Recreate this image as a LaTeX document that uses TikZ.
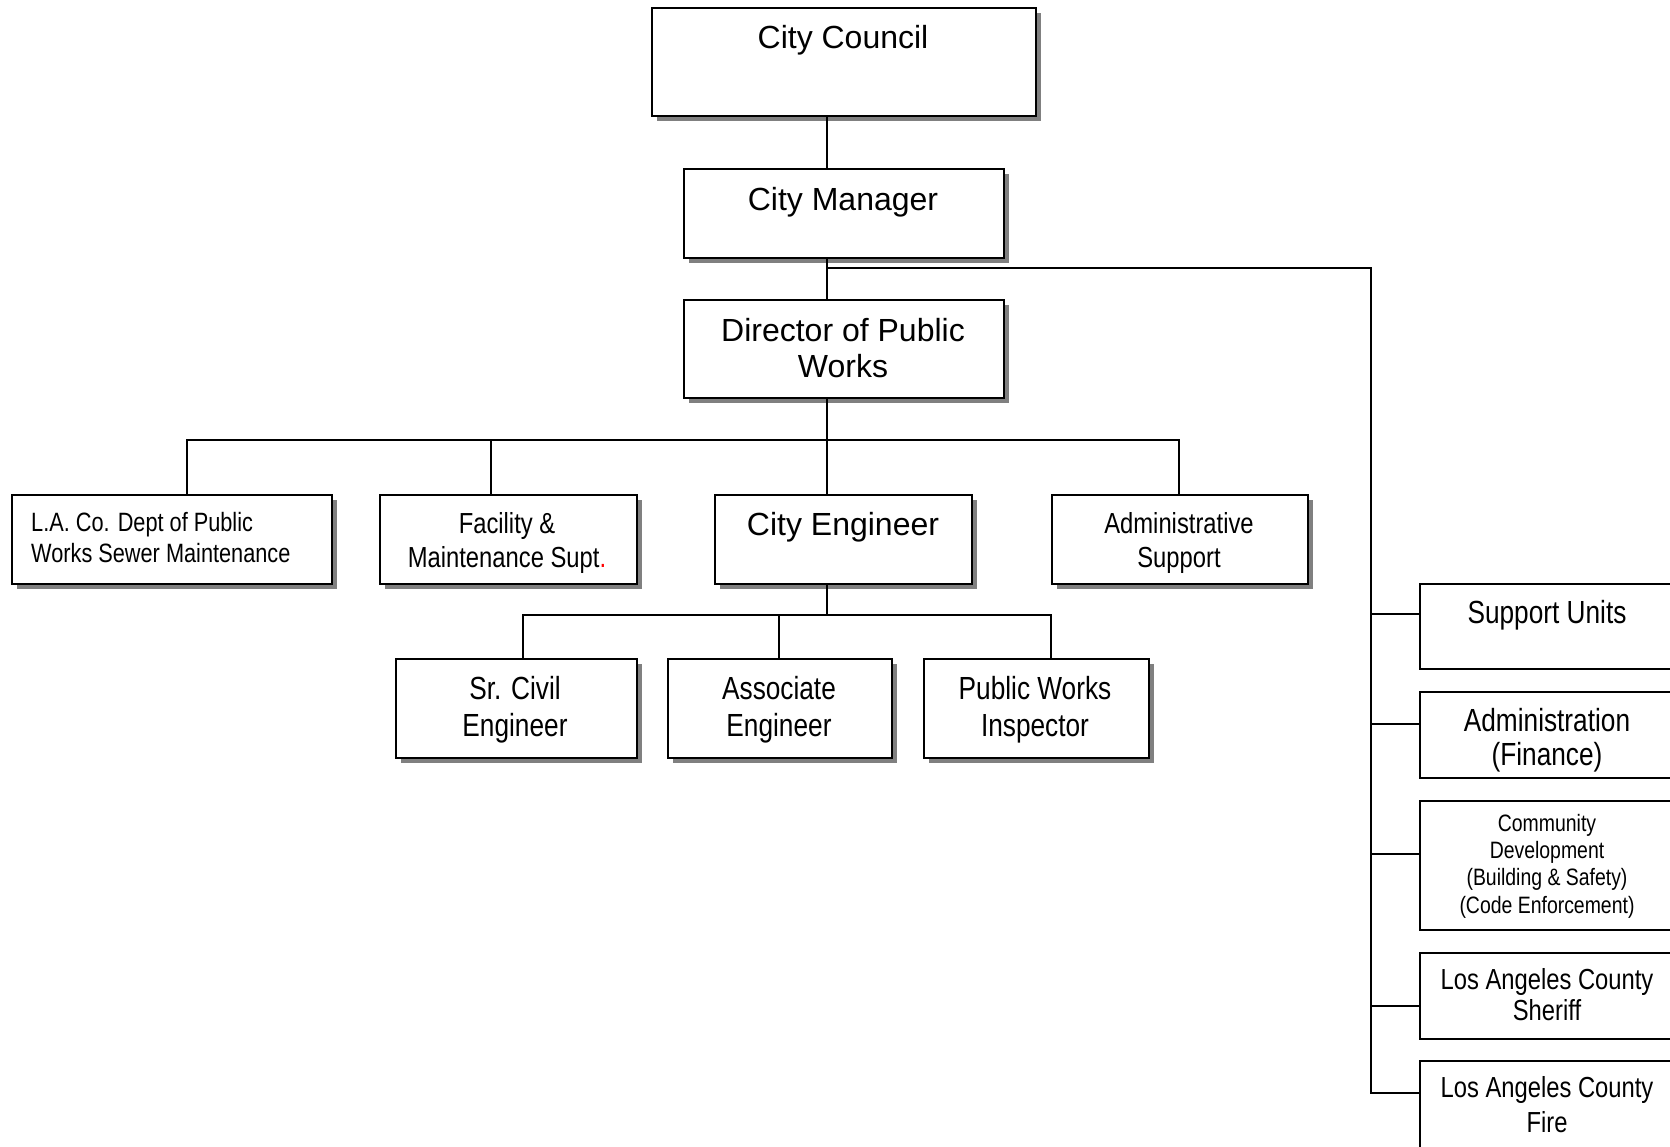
\documentclass[tikz,border=0pt]{standalone}
\usepackage{fontspec}
\setmainfont{Liberation Sans}
\newfontfamily\narrowfont[FakeStretch=0.82]{Liberation Sans}
\usetikzlibrary{shadows,calc}
\tikzset{
  orgbox/.style={draw=black, line width=2.4pt, fill=white, inner sep=0pt, anchor=north west,
    drop shadow={shadow xshift=5pt, shadow yshift=-5pt, fill=black!50, opacity=1}},
  sidebox/.style={draw=black, line width=2pt, fill=white, inner sep=0pt, anchor=north west},
  link/.style={line width=2pt, line cap=rect},
  txt/.style={inner sep=0pt, align=center},
  bigtxt/.style={txt, font=\fontsize{32}{36}\selectfont},
  midtxt/.style={txt, font=\narrowfont\fontsize{29}{34}\selectfont},
  engtxt/.style={txt, font=\narrowfont\fontsize{32}{37}\selectfont},
  latxt/.style={inner sep=0pt, align=left, anchor=west, font=\narrowfont\fontsize{26.5}{31}\selectfont},
  sidetxt/.style={txt, font=\narrowfont\fontsize{32}{34}\selectfont},
  lactxt/.style={txt, font=\narrowfont\fontsize{29}{31}\selectfont},
  firetxt/.style={txt, font=\narrowfont\fontsize{29}{35}\selectfont},
  cdtxt/.style={txt, font=\narrowfont\fontsize{23.7}{27.3}\selectfont},
}
\begin{document}
\begin{tikzpicture}[x=1pt, y=-1pt]
\useasboundingbox (0,0) rectangle (1670,1146);
\fill[white] (0,0) rectangle (1670,1146);
\clip (0,0) rectangle (1670,1146);

% spine and rails
\coordinate (spine) at (827,0);
\coordinate (rail) at (1371,0);

% main boxes
\node[orgbox, minimum width=384pt, minimum height=108pt] (cc) at (651,7) {};
\node[orgbox, minimum width=320pt, minimum height=89pt] (cm) at (683,168) {};
\node[orgbox, minimum width=320pt, minimum height=98pt] (dpw) at (683,299) {};
\node[orgbox, minimum width=320pt, minimum height=89pt] (la) at (11,494) {};
\node[orgbox, minimum width=257pt, minimum height=89pt] (fac) at (379,494) {};
\node[orgbox, minimum width=257pt, minimum height=89pt] (ce) at (714,494) {};
\node[orgbox, minimum width=256pt, minimum height=89pt] (as) at (1051,494) {};
\node[orgbox, minimum width=241pt, minimum height=99pt] (sr) at (395,658) {};
\node[orgbox, minimum width=224pt, minimum height=99pt] (ae) at (667,658) {};
\node[orgbox, minimum width=225pt, minimum height=99pt] (pwi) at (923,658) {};

% side boxes (run past the right edge)
\node[sidebox, minimum width=300pt, minimum height=85pt] (su) at (1419,583) {};
\node[sidebox, minimum width=300pt, minimum height=86pt] (adm) at (1419,691) {};
\node[sidebox, minimum width=300pt, minimum height=129pt] (cd) at (1419,800) {};
\node[sidebox, minimum width=300pt, minimum height=86pt] (sh) at (1419,952) {};
\node[sidebox, minimum width=300pt, minimum height=120pt] (fire) at (1419,1060) {};

% texts
\node[bigtxt] (ccT) at (843,40) {City Council};
\node[bigtxt] (cmT) at (843,202) {City Manager};
\node[bigtxt] (dpwT) at (843,348) {Director of Public\\Works};
\node[latxt] (laT) at (31,538) {L.A. Co. Dept of Public\\Works Sewer Maintenance};
\node[midtxt] (facT) at (507,543) {Facility \&\\Maintenance Supt\textcolor{red}{.}};
\node[bigtxt] (ceT) at (843,527) {City Engineer};
\node[midtxt] (asT) at (1179,543) {Administrative\\Support};
\node[engtxt] (srT) at (515,710) {Sr. Civil\\Engineer};
\node[engtxt] (aeT) at (779,710) {Associate\\Engineer};
\node[engtxt] (pwiT) at (1035,710) {Public Works\\Inspector};
\node[sidetxt] (suT) at (1547,615) {Support Units};
\node[sidetxt] (admT) at (1547,740) {Administration\\(Finance)};
\node[cdtxt] (cdT) at (1547,866) {Community\\Development\\(Building \& Safety)\\(Code Enforcement)};
\node[lactxt] (shT) at (1547,995) {Los Angeles County\\Sheriff};
\node[firetxt] (fireT) at (1547,1105) {Los Angeles County\\Fire};

% connectors: top spine
\draw[link] (cc.south -| spine) -- (cm.north -| spine);
\draw[link] (cm.south -| spine) -- (dpw.north -| spine);
\coordinate (cmbus) at (827,268);
\coordinate (bsu) at (1371,614);
\coordinate (badm) at (1371,724);
\coordinate (bcd) at (1371,854);
\coordinate (bsh) at (1371,1006);
\coordinate (bfire) at (1371,1093);
\draw[link] (cmbus) -| (bfire) -- (fire.west |- bfire);
\draw[link] (bsu) -- (su.west |- bsu);
\draw[link] (badm) -- (adm.west |- badm);
\draw[link] (bcd) -- (cd.west |- bcd);
\draw[link] (bsh) -- (sh.west |- bsh);

% director bus
\coordinate (dbus) at (827,440);
\coordinate (dlaX) at (187,0);
\coordinate (dfacX) at (491,0);
\coordinate (dasX) at (1179,0);
\draw[link] (dpw.south -| spine) -- (ce.north -| spine);
\draw[link] (la.north -| dlaX) |- (dbus -| dasX) -- (as.north -| dasX);
\draw[link] (fac.north -| dfacX) -- (dbus -| dfacX);

% city engineer bus
\coordinate (ebus) at (827,615);
\coordinate (esrX) at (523,0);
\coordinate (eaeX) at (779,0);
\coordinate (epwX) at (1051,0);
\draw[link] (ce.south -| spine) -- (ebus);
\draw[link] (sr.north -| esrX) |- (ebus -| epwX) -- (pwi.north -| epwX);
\draw[link] (ae.north -| eaeX) -- (ebus -| eaeX);
\end{tikzpicture}
\end{document}
